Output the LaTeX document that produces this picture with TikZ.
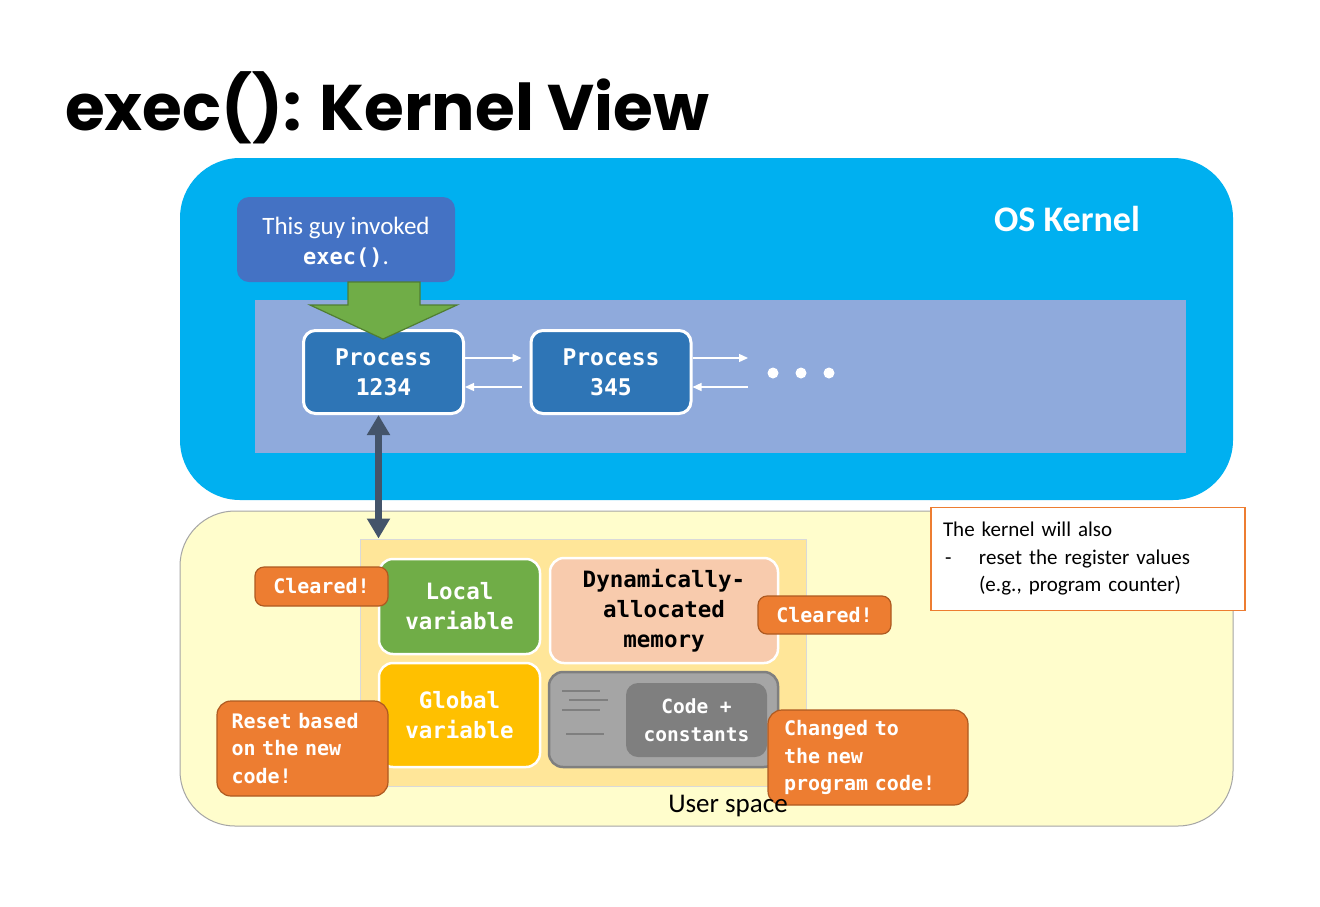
\documentclass[tikz,border=0pt]{standalone}
\usepackage{fontspec}
\setmainfont{Carlito}
\newfontfamily\monof[WordSpace={1,0,0}]{DejaVu Sans Mono}
\newfontfamily\titlef{Poppins}
\usetikzlibrary{arrows.meta,calc}
\definecolor{kern}{HTML}{00B0F0}
\definecolor{innerc}{HTML}{8FAADC}
\definecolor{guyc}{HTML}{4472C4}
\definecolor{procc}{HTML}{2E75B6}
\definecolor{greenc}{HTML}{70AD47}
\definecolor{greenb}{HTML}{507E32}
\definecolor{userc}{HTML}{FFFDCC}
\definecolor{memc}{HTML}{FFE699}
\definecolor{dync}{HTML}{F8CBAD}
\definecolor{globc}{HTML}{FFC000}
\definecolor{codec}{HTML}{A5A5A5}
\definecolor{codeb}{HTML}{7F7F7F}
\definecolor{orc}{HTML}{ED7D31}
\definecolor{orb}{HTML}{AE5A21}
\definecolor{slate}{HTML}{44546A}
\begin{document}
\begin{tikzpicture}[x=1pt,y=-1pt,
  procbox/.style={draw=white, line width=3pt, fill=procc, rounded corners=12pt, minimum width=160pt, minimum height=83pt, text=white, align=center, font=\monof\bfseries\fontsize{23}{30}\selectfont},
  memblock/.style={draw=white, line width=2.5pt, rounded corners=14pt, align=center, font=\monof\bfseries\fontsize{22.5}{30}\selectfont},
  callout/.style={draw=orb, line width=1.2pt, fill=orc, rounded corners=9pt, text=white, font=\monof\bfseries\fontsize{20}{27.5}\selectfont},
  warr/.style={draw=white, line width=1.3pt, -{Triangle[length=9pt,width=8pt]}},
  dblarr/.style={draw=slate, line width=7pt, {Triangle[length=20pt,width=22pt]}-{Triangle[length=20pt,width=22pt]}},
  codeline/.style={draw=codeb, line width=2.5pt}
]
\useasboundingbox (0,0) rectangle (1320,906);
\fill[white] (0,0) rectangle (1320,906);

% title
\node[anchor=base west, inner sep=0pt, font=\titlef\bfseries\fontsize{64.5}{70}\selectfont] (title) at (65,130) {exec(): Kernel View};

% kernel
\node[fill=kern, rounded corners=60pt, minimum width=1053pt, minimum height=342pt] (kernel) at (706.5,329) {};
\node[text=white, font=\bfseries\fontsize{36}{40}\selectfont] (oskern) at (1067,219) {OS Kernel};
\node[fill=innerc, minimum width=931pt, minimum height=153pt] (inner) at (720.5,376.5) {};

% invoker box
\node[fill=guyc, rounded corners=12pt, minimum width=218pt, minimum height=85pt] (guy) at (346,239.5) {};
\node[text=white, align=center, font=\fontsize{25}{30}\selectfont] (guytext) at ([yshift=-3pt]guy.center) {This guy invoked\\{\monof\bfseries\fontsize{22}{30}\selectfont exec()}.};

% processes
\node[procbox] (p1) at (383.5,372) {Process\\1234};
\node[procbox] (p2) at (611,372) {Process\\345};

% green arrow
\draw[fill=greenc, draw=greenb, line width=1.2pt] (348,282) -- (420,282) -- (420,305) -- (457,305) -- (383,339) -- (310,305) -- (348,305) -- cycle;

% arrows between processes
\coordinate (r1) at (748,358);
\coordinate (r2) at (748,387);
\draw[warr] ([yshift=14pt]p1.east) -- ([yshift=14pt,xshift=-8pt]p2.west);
\draw[warr] ([yshift=-15pt,xshift=-8pt]p2.west) -- ([yshift=-15pt]p1.east);
\draw[warr] ([yshift=14pt]p2.east) -- (r1);
\draw[warr] (r2) -- ([yshift=-15pt]p2.east);
\fill[white] (773,373) circle (5.5pt) (801,373) circle (5.5pt) (829,373) circle (5.5pt);

% user space
\node[fill=userc, draw=codec, line width=1pt, rounded corners=55pt, minimum width=1053pt, minimum height=315pt] (user) at (706.5,668.5) {};
\node[fill=memc, draw=black!15, line width=1pt, minimum width=446pt, minimum height=247pt] (mem) at (583,662.5) {};

% double arrow
\draw[dblarr] ([xshift=-5pt]p1.south) -- ([xshift=-5pt]p1.south |- mem.north);

% memory blocks
\node[memblock, fill=greenc, text=white, minimum width=161pt, minimum height=95pt] (local) at (459.5,606.5) {Local\\variable};
\node[memblock, fill=dync, text=black, minimum width=228pt, minimum height=105pt] (dyn) at (664,610.5) {Dynamically-\\allocated\\memory};
\node[memblock, fill=globc, text=white, minimum width=161pt, minimum height=104pt] (glob) at (459.5,715) {Global\\variable};
\node[draw=codeb, line width=2.5pt, fill=codec, rounded corners=14pt, minimum width=229pt, minimum height=95pt] (code) at (663.5,719.5) {};
\node[fill=codeb, rounded corners=12pt, minimum width=141pt, minimum height=74pt, text=white, align=center, font=\monof\bfseries\fontsize{19.5}{28}\selectfont] (codein) at (696.5,720) {Code +\\constants};
\draw[codeline] (562,691) -- (600,691);
\draw[codeline] (569,700) -- (608,700);
\draw[codeline] (562,710) -- (600,710);
\draw[codeline] (566,734) -- (604,734);

% callouts
\node[callout, minimum width=133pt, minimum height=39pt] (c1) at (321.5,586.5) {Cleared!};
\node[callout, minimum width=133pt, minimum height=38pt] (c2) at (824.5,615) {Cleared!};
\node[callout, rounded corners=14pt, minimum width=171pt, minimum height=95pt, text width=142pt, align=left] (c3) at (302.5,748.5) {Reset based\\on the new\\code!};
\node[callout, rounded corners=14pt, minimum width=200pt, minimum height=95pt, text width=168pt, align=left] (c4) at (868,757.5) {Changed to\\the new\\program code!};

% note
\node[fill=white, draw=orc, line width=1.5pt, minimum width=314pt, minimum height=103pt, text width=290pt, inner sep=12pt, align=left, font=\fontsize{21}{27.5}\selectfont] (note) at (1088,559) {The kernel will also\\\makebox[36pt][l]{\hspace{2pt}-}reset the register values\\\hspace*{36pt}(e.g., program counter)};

\node[font=\fontsize{27}{30}\selectfont] (ulabel) at (728,806) {User space};
\end{tikzpicture}
\end{document}
